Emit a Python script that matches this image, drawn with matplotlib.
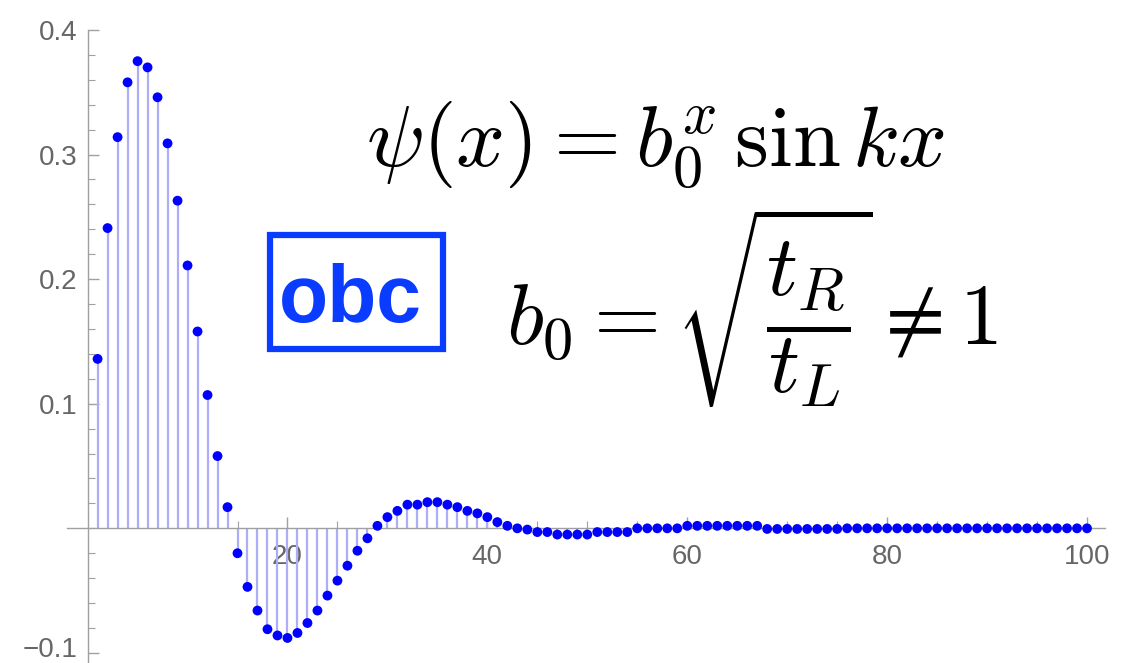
import numpy as np
import matplotlib
matplotlib.use("Agg")
import matplotlib.pyplot as plt
from matplotlib.patches import Rectangle
from matplotlib.transforms import ScaledTranslation

# site index and wavefunction amplitude (open boundary conditions)
sites = list(range(1, 101))
amplitude = [
    0.136, 0.241, 0.314, 0.358, 0.375, 0.370, 0.346, 0.309, 0.263, 0.211,
    0.158, 0.107, 0.058, 0.017, -0.020, -0.047, -0.066, -0.081, -0.086, -0.088,
    -0.084, -0.076, -0.066, -0.054, -0.042, -0.030, -0.018, -0.008, 0.002, 0.009,
    0.014, 0.019, 0.019, 0.021, 0.021, 0.019, 0.017, 0.014, 0.012, 0.009,
    0.005, 0.002, 0.000, -0.001, -0.003, -0.003, -0.005, -0.005, -0.005, -0.005,
    -0.003, -0.003, -0.003, -0.003, 0.000, 0.000, 0.000, 0.000, 0.000, 0.002,
    0.002, 0.002, 0.002, 0.002, 0.002, 0.002, 0.002, -0.0005, -0.0005, -0.0005,
    -0.0005, -0.0005, -0.0005, -0.0005, -0.0005, 0.0, 0.0, 0.0, 0.0, 0.0,
    0.0, 0.0, 0.0, 0.0, 0.0, 0.0, 0.0, 0.0, 0.0, 0.0,
    0.0, 0.0, 0.0, 0.0, 0.0, 0.0, 0.0, 0.0, 0.0, 0.0,
]
x_ticks = [20, 40, 60, 80, 100]
y_ticks = [-0.1, 0.1, 0.2, 0.3, 0.4]
y_tick_labels = ['\u22120.1', '0.1', '0.2', '0.3', '0.4']

plt.rcParams['font.family'] = ['Liberation Sans', 'DejaVu Sans']
plt.rcParams['mathtext.fontset'] = 'cm'

W, H = 1121, 663
fig = plt.figure(figsize=(W / 100, H / 100), dpi=100)
ax = fig.add_axes([66.6 / W, 0.0, (1105 - 66.6) / W, (H - 30) / H])

axis_gray = '#a0a0a0'
label_gray = '#666666'

# stems + points
ax.vlines(sites, 0, amplitude, color='#adadfa', linewidth=1.6, zorder=2)
ax.scatter(sites, amplitude, s=50, color='#0000ff', edgecolors='none',
           zorder=3, clip_on=False)

ax.set_xlim(-2.1, 101.8)
ax.set_ylim(-0.1081, 0.4)

for side in ('top', 'right'):
    ax.spines[side].set_visible(False)
ax.spines['left'].set_position(('data', 0))
ax.spines['bottom'].set_position(('data', 0))
for side in ('left', 'bottom'):
    ax.spines[side].set_color(axis_gray)
    ax.spines[side].set_linewidth(1.0)

ax.set_xticks(x_ticks)
ax.set_xticklabels([str(t) for t in x_ticks])
ax.set_xticks(np.arange(5, 101, 5), minor=True)
ax.set_yticks(y_ticks)
ax.set_yticklabels(y_tick_labels)
ax.set_yticks(np.arange(-0.1, 0.401, 0.02), minor=True)

ax.tick_params(axis='both', which='major', direction='in', length=8, width=1.0,
               color=axis_gray, labelcolor=label_gray, labelsize=20)
ax.tick_params(axis='both', which='minor', direction='in', length=5, width=0.8,
               color=axis_gray)
ax.tick_params(axis='x', which='major', pad=11)
ax.tick_params(axis='y', which='major', pad=7)

# lift the bottom label a bit so it stays inside the canvas
low = ax.yaxis.get_major_ticks()[0].label1
low.set_transform(low.get_transform() + ScaledTranslation(0, 6 / 100, fig.dpi_scale_trans))

# formulas
fig.text(655 / W, 1 - 145 / H, r'$\psi(x) = b_0^x\,\sin kx$', fontsize=62,
         ha='center', va='center', color='black')
fig.text(752 / W, 1 - 308 / H, r'$b_0 = \sqrt{\dfrac{t_R}{t_L}} \neq 1$', fontsize=62,
         ha='center', va='center', color='black')

# boundary condition tag
obc_blue = '#0a3cff'
fig.patches.append(Rectangle((270 / W, 1 - 349 / H), 173 / W, 114 / H,
                             transform=fig.transFigure, fill=False,
                             edgecolor=obc_blue, linewidth=4.5))
fig.text(350 / W, 1 - 322 / H, 'obc', fontsize=58, fontweight='bold',
         color=obc_blue, ha='center', va='baseline')

fig.savefig('out.png', dpi=100)
